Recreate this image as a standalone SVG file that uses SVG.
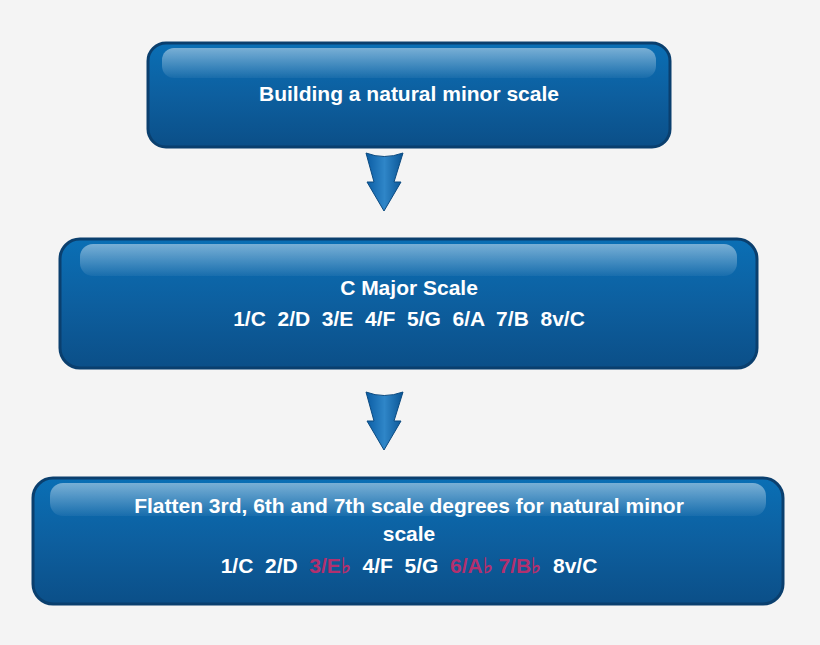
<svg xmlns="http://www.w3.org/2000/svg" width="820" height="645" viewBox="0 0 820 645">
<defs>
<linearGradient id="bg" x1="0" y1="0" x2="0" y2="1"><stop offset="0" stop-color="#0a6fb5"/><stop offset="0.5" stop-color="#0d5f9f"/><stop offset="1" stop-color="#0b4f88"/></linearGradient>
<linearGradient id="gl" x1="0" y1="0" x2="0" y2="1"><stop offset="0" stop-color="#ffffff" stop-opacity="0.45"/><stop offset="1" stop-color="#ffffff" stop-opacity="0.05"/></linearGradient>
<linearGradient id="ag" x1="0" y1="0" x2="1" y2="0"><stop offset="0" stop-color="#0a5ca3"/><stop offset="0.5" stop-color="#2f86c8"/><stop offset="1" stop-color="#0a5595"/></linearGradient>
</defs>
<style>
.box{fill:url(#bg);stroke:#0a3f6e;stroke-width:3}
.gloss{fill:url(#gl)}
.t{font-family:"Liberation Sans",Arial,sans-serif;font-weight:bold;font-size:21px;fill:#fff;text-anchor:middle}
.m{fill:#b3306e}
.arr{fill:url(#ag);stroke:#0b4a80;stroke-width:1}
</style>
<rect width="820" height="645" fill="#f4f4f4"/>
<g id="connectors">
<path class="arr" d="M366,153 Q384,160 403,153 L394,182 L401,182 L384,211 L367,182 L374,182 Z"/>
<path class="arr" d="M366,392 Q384,399 403,392 L394,421 L401,421 L384,450 L367,421 L374,421 Z"/>
</g>
<g id="n1">
<rect class="box" x="148" y="43" width="522" height="104" rx="18"/>
<rect class="gloss" x="162" y="48" width="494" height="30" rx="12"/>
<text class="t" x="409" y="101">Building a natural minor scale</text>
</g>
<g id="n2">
<rect class="box" x="60" y="239" width="697" height="129" rx="20"/>
<rect class="gloss" x="80" y="244" width="657" height="32" rx="13"/>
<text class="t" x="409" y="295">C Major Scale</text>
<text class="t" x="409" y="326" xml:space="preserve">1/C  2/D  3/E  4/F  5/G  6/A  7/B  8v/C</text>
</g>
<g id="n3">
<rect class="box" x="33" y="478" width="750" height="126" rx="20"/>
<rect class="gloss" x="50" y="483" width="716" height="33" rx="13"/>
<text class="t" x="409" y="513">Flatten 3rd, 6th and 7th scale degrees for natural minor</text>
<text class="t" x="409" y="541">scale</text>
<text class="t" x="409" y="573" xml:space="preserve">1/C  2/D  <tspan class="m">3/E♭</tspan>  4/F  5/G  <tspan class="m">6/A♭ 7/B♭</tspan>  8v/C</text>
</g>
</svg>
